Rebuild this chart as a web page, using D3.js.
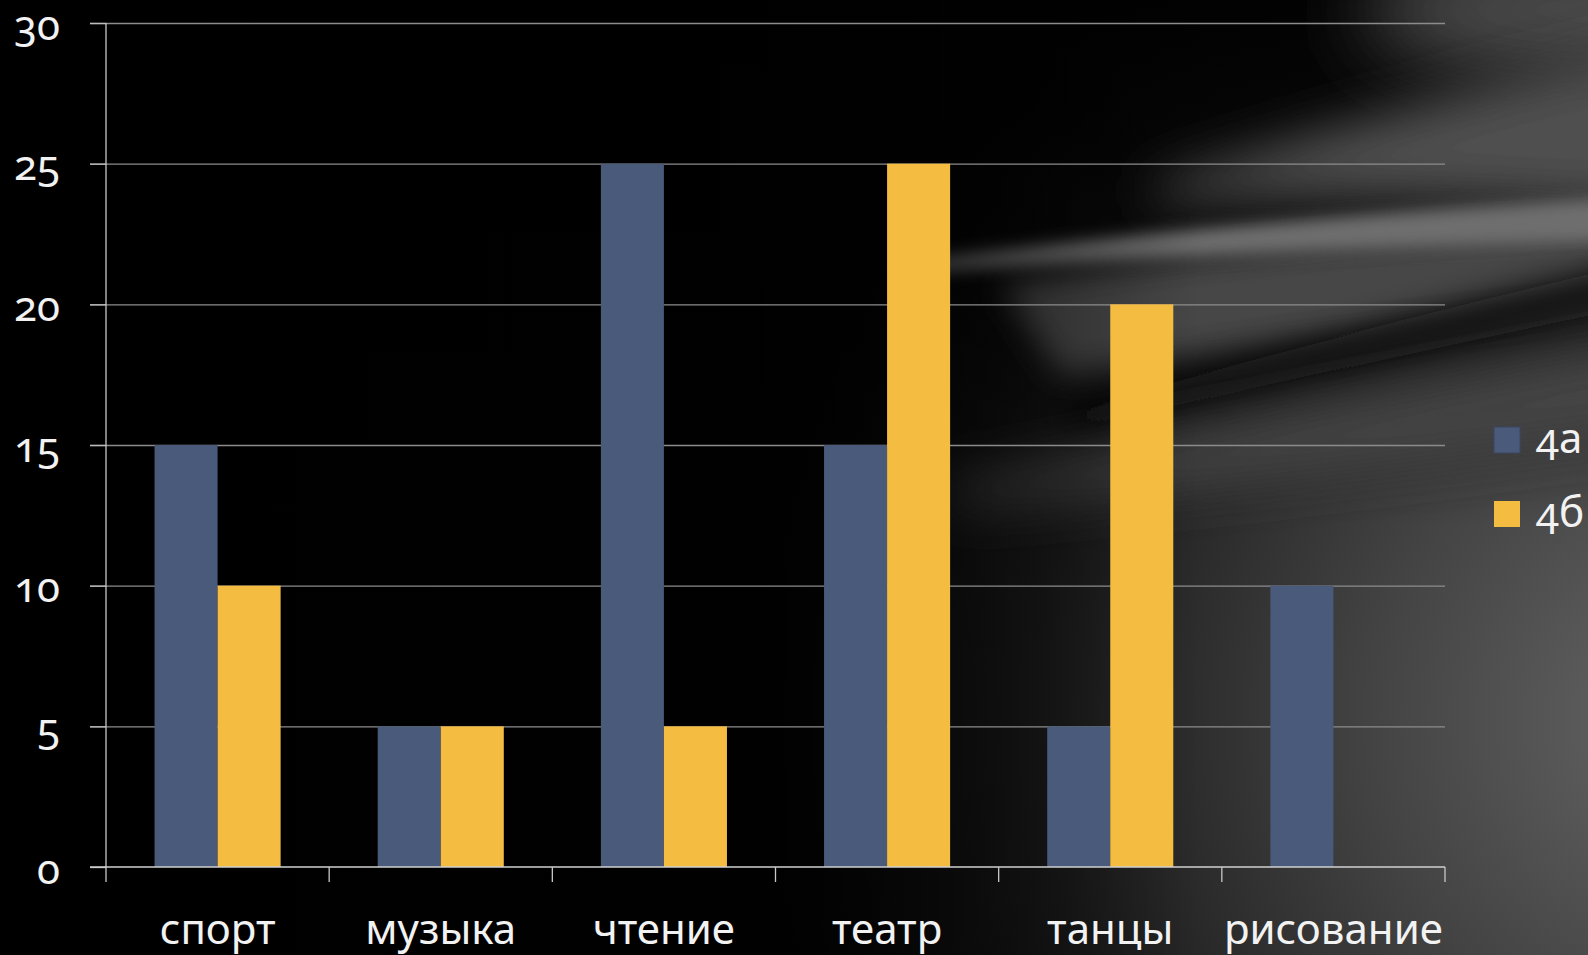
<!DOCTYPE html>
<html>
<head>
<meta charset="utf-8">
<script src="https://cdn.jsdelivr.net/npm/d3@7"></script>
<style>
  html, body { margin: 0; padding: 0; background: #000; overflow: hidden; }
  .lbl { font-family: "Noto Sans", "Open Sans", sans-serif; fill: #f2f2f2; font-variant-numeric: oldstyle-nums; }
</style>
</head>
<body>
<div class="canvas"></div>
<script>
// chart data
const categories = ['спорт', 'музыка', 'чтение', 'театр', 'танцы', 'рисование'];
const seriesNames = ['4а', '4б'];
const values4a = [15, 5, 25, 15, 5, 10];
const values4b = [10, 5, 5, 25, 20, 0];
const yTicks = [0, 5, 10, 15, 20, 25, 30];

const seriesColors = ['#4a5a7a', '#f5bc42'];

const width = 1588;
const height = 955;

const svg = d3.select('.canvas')
    .append('svg')
    .attr('width', width)
    .attr('height', height);

// ---- background: black with soft grey streaks on the right ----
const defs = svg.append('defs');

const glow = defs.append('radialGradient')
    .attr('id', 'glow')
    .attr('gradientUnits', 'userSpaceOnUse')
    .attr('cx', 1700).attr('cy', 720).attr('r', 950);
glow.append('stop').attr('offset', '0%').attr('stop-color', '#666');
glow.append('stop').attr('offset', '35%').attr('stop-color', '#434343');
glow.append('stop').attr('offset', '70%').attr('stop-color', '#1a1a1a');
glow.append('stop').attr('offset', '100%').attr('stop-color', '#050505');

// fades everything to black towards the left
const fade = defs.append('linearGradient')
    .attr('id', 'fade')
    .attr('gradientUnits', 'userSpaceOnUse')
    .attr('x1', 0).attr('y1', 0).attr('x2', 1200).attr('y2', 0);
fade.append('stop').attr('offset', '0%').attr('stop-color', '#000').attr('stop-opacity', 1);
fade.append('stop').attr('offset', '60%').attr('stop-color', '#000').attr('stop-opacity', 0.92);
fade.append('stop').attr('offset', '100%').attr('stop-color', '#000').attr('stop-opacity', 0);

// darkens the top part
const topShade = defs.append('linearGradient')
    .attr('id', 'topShade')
    .attr('x1', 0).attr('y1', 0).attr('x2', 0).attr('y2', 1);
topShade.append('stop').attr('offset', '0%').attr('stop-color', '#000').attr('stop-opacity', 0.85);
topShade.append('stop').attr('offset', '30%').attr('stop-color', '#000').attr('stop-opacity', 0.5);
topShade.append('stop').attr('offset', '55%').attr('stop-color', '#000').attr('stop-opacity', 0);

[['blur8', 8], ['blur16', 16], ['blur25', 25], ['blur40', 40]].forEach(([id, s]) => {
    defs.append('filter').attr('id', id)
        .attr('x', '-50%').attr('y', '-50%').attr('width', '200%').attr('height', '200%')
        .append('feGaussianBlur').attr('stdDeviation', s);
});

const bg = svg.append('g');
bg.append('rect').attr('width', width).attr('height', height).attr('fill', '#000');
bg.append('rect').attr('width', width).attr('height', height).attr('fill', 'url(#glow)');
bg.append('rect').attr('width', width).attr('height', height).attr('fill', 'url(#topShade)');

// top right corner haze
bg.append('ellipse').attr('cx', 1620).attr('cy', 10).attr('rx', 260).attr('ry', 70)
    .attr('fill', '#4c4c4c').attr('filter', 'url(#blur40)');
// upper swoosh
bg.append('path').attr('d', 'M1150,185 Q1380,110 1640,50 L1640,210 Q1400,190 1150,200 Z')
    .attr('fill', '#505050').attr('filter', 'url(#blur25)');
// grey area between the streaks
bg.append('path').attr('d', 'M1000,285 Q1300,235 1640,222 L1640,300 Q1350,330 1060,375 Z')
    .attr('fill', '#474747').attr('filter', 'url(#blur16)');
// bright streak
bg.append('path').attr('d', 'M900,262 Q1250,218 1640,196 L1640,242 Q1250,250 900,274 Z')
    .attr('fill', '#6e6e6e').attr('filter', 'url(#blur8)');
// dark streak
bg.append('path').attr('d', 'M1060,412 Q1350,330 1640,262 L1640,305 Q1350,365 1080,430 Z')
    .attr('fill', '#0c0c0c').attr('filter', 'url(#blur16)');
// lower light band
bg.append('path').attr('d', 'M950,480 Q1300,410 1640,345 L1640,430 Q1300,480 950,510 Z')
    .attr('fill', '#444').attr('filter', 'url(#blur25)');

// left side stays black
bg.append('rect').attr('width', width).attr('height', height).attr('fill', 'url(#fade)');

// ---- chart area ----
const margin = { top: 23, left: 106, right: 1445, bottom: 867 };

const y = d3.scaleLinear()
    .domain([0, 30])
    .range([margin.bottom, margin.top]);

const x0 = d3.scaleBand()
    .domain(categories)
    .range([margin.left, margin.right])
    .padding(0);

const x1 = d3.scaleBand()
    .domain(seriesNames)
    .range([0, x0.bandwidth()])
    .paddingInner(0)
    .paddingOuter(0.77);

// gridlines
const grid = svg.append('g')
    .attr('transform', `translate(90,0)`)
    .call(d3.axisRight(y).tickValues(yTicks.slice(1)).tickSize(margin.right - 90).tickFormat(''));
grid.select('.domain').remove();
grid.selectAll('line').attr('stroke', '#8c8c8c').attr('stroke-width', 1.3);

// bars
const rows = categories.map((c, i) => ({ cat: c, vals: [values4a[i], values4b[i]] }));

const groups = svg.append('g').selectAll('g')
    .data(rows)
    .enter().append('g')
    .attr('transform', d => `translate(${x0(d.cat)},0)`);

groups.selectAll('rect')
    .data(d => d.vals.map((v, k) => ({ key: seriesNames[k], v: v, k: k })))
    .enter().append('rect')
    .attr('x', d => x1(d.key))
    .attr('width', x1.bandwidth())
    .attr('y', d => y(d.v))
    .attr('height', d => y(0) - y(d.v))
    .attr('fill', d => seriesColors[d.k]);

// y axis with labels
const yAxisGroup = svg.append('g')
    .attr('transform', `translate(${margin.left},0)`)
    .call(d3.axisLeft(y).tickValues(yTicks).tickSize(16).tickPadding(30));
yAxisGroup.select('.domain').remove();
yAxisGroup.selectAll('line').attr('stroke', '#bdbdbd').attr('stroke-width', 1.3);
yAxisGroup.selectAll('text')
    .attr('class', 'lbl')
    .attr('font-size', 42)
    .attr('dy', 16);

// vertical axis line
svg.append('line')
    .attr('x1', margin.left).attr('x2', margin.left)
    .attr('y1', y(30)).attr('y2', margin.bottom + 15)
    .attr('stroke', '#c8c8c8').attr('stroke-width', 1.3);

// x axis line and category ticks at band edges
svg.append('line')
    .attr('x1', 90).attr('x2', margin.right)
    .attr('y1', y(0)).attr('y2', y(0))
    .attr('stroke', '#d0d0d0').attr('stroke-width', 1.3);

const edges = categories.map(c => x0(c)).slice(1).concat([margin.right]);
svg.append('g').selectAll('line')
    .data(edges)
    .enter().append('line')
    .attr('x1', d => d).attr('x2', d => d)
    .attr('y1', y(0)).attr('y2', y(0) + 15)
    .attr('stroke', '#c8c8c8').attr('stroke-width', 1.3);

// category labels
const xLabels = svg.append('g').selectAll('text')
    .data(categories)
    .enter().append('text')
    .attr('class', 'lbl')
    .attr('font-size', 42)
    .attr('text-anchor', 'middle')
    .attr('x', d => x0(d) + x0.bandwidth() / 2)
    .attr('y', 944)
    .text(d => d);

// keep the last label inside the plot edge
xLabels.each(function(d) {
    const len = this.getComputedTextLength();
    const cx = x0(d) + x0.bandwidth() / 2;
    if (cx + len / 2 > margin.right) {
        d3.select(this).attr('x', margin.right - len / 2);
    }
});

// legend
const legend = svg.append('g').selectAll('g')
    .data(seriesNames)
    .enter().append('g')
    .attr('transform', (d, i) => `translate(1494,${427 + i * 74})`);

legend.append('rect')
    .attr('width', 26).attr('height', 26)
    .attr('fill', (d, i) => seriesColors[i])
    .attr('stroke', (d, i) => i === 0 ? '#3a4660' : 'none')
    .attr('stroke-width', 1);

legend.append('text')
    .attr('class', 'lbl')
    .attr('font-size', 42)
    .attr('x', 42)
    .attr('y', 26)
    .text(d => d);
</script>
</body>
</html>
